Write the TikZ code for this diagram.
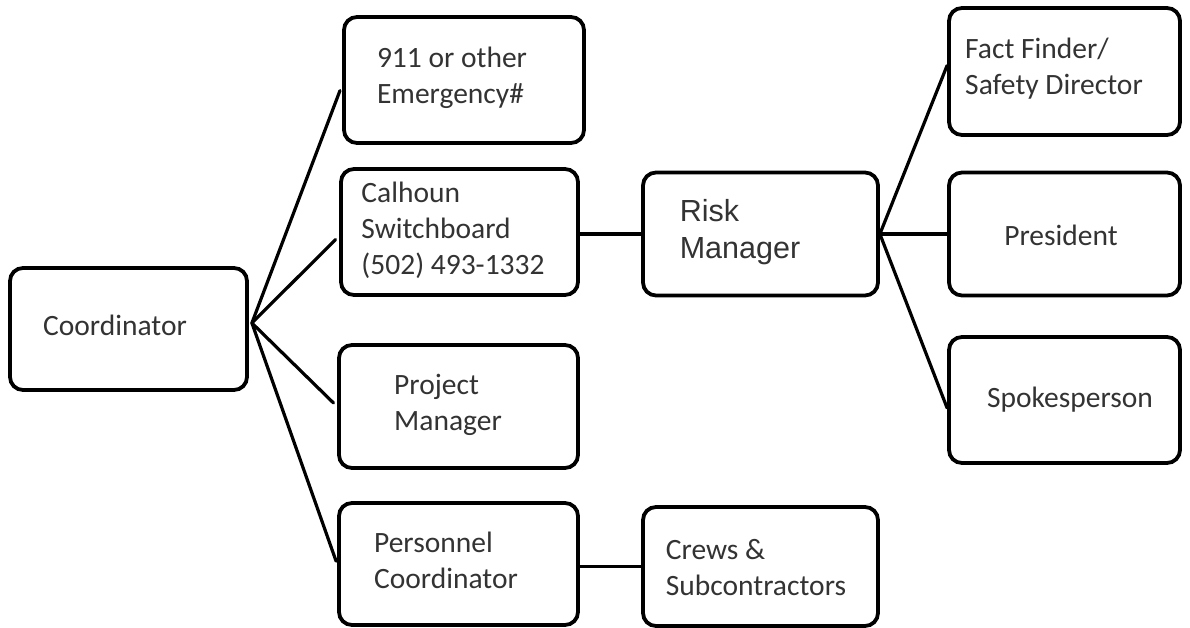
\documentclass[tikz,border=0pt]{standalone}
\usepackage{fontspec}
\setmainfont{Carlito}
\newfontfamily\arialfont{Liberation Sans}
\begin{document}
\begin{tikzpicture}[x=1pt,y=-1pt,
  box/.style={draw=black,line width=3.8pt,rounded corners=13pt,inner sep=0pt},
  lbl/.style={align=left,inner sep=0pt,text=black!80,font=\fontsize{29.5}{36}\selectfont},
  conn/.style={line width=3.2pt,line cap=round}]
\useasboundingbox[fill=white] (0,0) rectangle (1190,628);
% boxes
\node[box,minimum width=237pt,minimum height=122pt] (coord) at (128.5,329) {};
\node[box,minimum width=240pt,minimum height=126pt] (e911) at (464,80) {};
\node[box,minimum width=237pt,minimum height=126pt] (calh) at (459.5,232) {};
\node[box,minimum width=239pt,minimum height=123pt] (pm) at (458.5,406.5) {};
\node[box,minimum width=239pt,minimum height=122pt] (pers) at (458.5,564) {};
\node[box,minimum width=235pt,minimum height=119pt] (crews) at (760.5,566.5) {};
\node[box,minimum width=235pt,minimum height=123pt] (risk) at (760.5,234) {};
\node[box,minimum width=231pt,minimum height=127pt] (fact) at (1064.5,71.5) {};
\node[box,minimum width=231pt,minimum height=123pt] (pres) at (1064.5,234) {};
\node[box,minimum width=231pt,minimum height=126pt] (spoke) at (1064.5,400) {};
% labels
\node[lbl] (tcoord) at (115,325) {Coordinator};
\node[lbl] (te911) at (452,78) {911 or other\\Emergency\#};
\node[lbl] (tcalh) at (453,230) {Calhoun\\Switchboard\\(502) 493-1332};
\node[lbl] (tpm) at (448,405) {Project\\Manager};
\node[lbl] (tpers) at (446,560) {Personnel\\Coordinator};
\node[lbl] (tcrews) at (756,568) {Crews \&\\Subcontractors};
\node[lbl,font=\arialfont\fontsize{30.5}{37}\selectfont] (trisk) at (740,232) {Risk\\Manager};
\node[lbl] (tfact) at (1054,69) {Fact Finder/\\Safety Director};
\node[lbl] (tpres) at (1061,235) {President};
\node[lbl] (tspoke) at (1070,400) {Spokesperson};
% connectors
\coordinate (hub) at ([xshift=3pt,yshift=6pt]coord.east);
\draw[conn,shorten >=6pt] (hub) -- ([yshift=-5pt]e911.west);
\draw[conn,shorten >=5pt] (hub) -- ([yshift=-4pt]calh.west);
\draw[conn,shorten >=5pt] (hub) -- (pm.west);
\draw[conn,shorten >=3pt] (hub) -- (pers.west);
\draw[conn] (risk.west) -- (risk.west -| calh.east);
\draw[conn] (crews.west) -- (crews.west -| pers.east);
\draw[conn] (risk.east) -- ([yshift=6pt]fact.west);
\draw[conn] (risk.east) -- (pres.west);
\draw[conn] (risk.east) -- ([yshift=-8pt]spoke.west);
\end{tikzpicture}
\end{document}
